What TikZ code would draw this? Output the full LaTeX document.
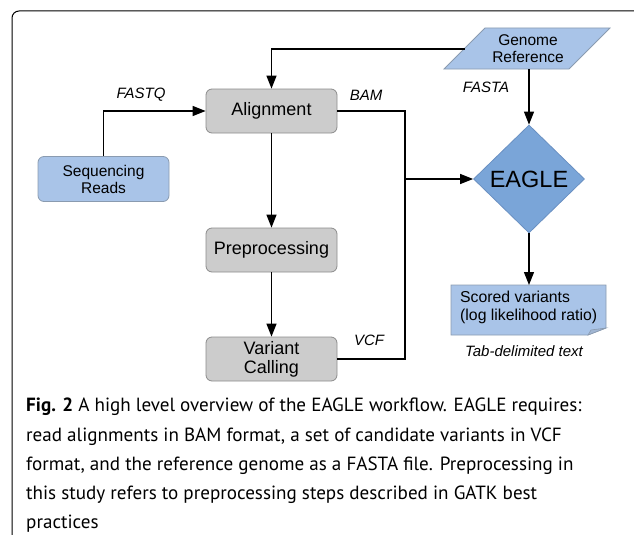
\documentclass[tikz,border=0pt]{standalone}
\usepackage{fontspec}
\setmainfont{Liberation Sans}
\newfontfamily\capfont{PT Sans}
\usetikzlibrary{arrows.meta,shapes.geometric,calc}
\definecolor{lblue}{HTML}{A9C4E8}
\definecolor{lblueedge}{HTML}{8A9BB0}
\definecolor{gfill}{HTML}{CCCCCC}
\definecolor{gedge}{HTML}{8C8C8C}
\definecolor{dblue}{HTML}{7AA5D8}
\definecolor{dblueedge}{HTML}{6A90C2}
\begin{document}
\begin{tikzpicture}[x=1pt,y=-1pt,
  gbox/.style={draw=gedge,fill=gfill,rounded corners=6pt,minimum width=131pt,minimum height=44pt,align=center,font=\fontsize{18}{20}\selectfont,inner sep=0pt,line width=0.8pt},
  bbox/.style={draw=lblueedge,fill=lblue,rounded corners=6pt,minimum width=131pt,minimum height=45pt,align=center,font=\fontsize{15.5}{18}\selectfont,inner sep=0pt,line width=0.8pt},
  conn/.style={line width=1.2pt},
  arr/.style={conn,-{Triangle[length=13pt,width=10pt]}},
  lbl/.style={font=\fontsize{15}{17}\selectfont\itshape,inner sep=0pt}
]
\useasboundingbox (0,0) rectangle (634,535);
\draw[line width=1pt,rounded corners=7pt] (12,535) -- (12,11) -- (634,11);

% nodes
\node[gbox] (align) at (271.5,111) {Alignment};
\node[gbox] (prep) at (271.5,250) {Preprocessing};
\node[gbox] (call) at (271.5,359) {Variant\\[-1pt]Calling};
\node[bbox] (reads) at (103.5,179) {Sequencing\\[-1pt]Reads};

% genome reference parallelogram
\path[draw=lblueedge,fill=lblue,line width=0.8pt] (485,28) coordinate (gtl) -- (610,28) -- (569,69) -- (444,69) coordinate (gbl) -- cycle;
\node[inner sep=0pt,align=center,font=\fontsize{15.5}{17}\selectfont] (genome) at (528,48.5) {Genome\\Reference};
\coordinate (gbot) at (529,69);
\coordinate (gleft) at (464.5,49);

% EAGLE diamond
\node[diamond,draw=dblueedge,fill=dblue,minimum width=111pt,minimum height=108pt,inner sep=0pt,font=\fontsize{23.5}{26}\selectfont,line width=0.8pt] (eagle) at (529,179) {EAGLE};

% scored variants with folded corner
\path[draw=lblueedge,fill=lblue,line width=0.8pt] (451,285) -- (606,285) -- (606,328) -- (588,335) -- (451,335) -- cycle;
\path[draw=lblueedge,fill=lblue!80!gray,line width=0.6pt] (606,328) -- (591,330) -- (588,335) -- cycle;
\node[inner sep=0pt,align=left,anchor=west,font=\fontsize{15.8}{18}\selectfont] (scored) at (460,307) {Scored variants\\(log likelihood ratio)};
\coordinate (scoredtop) at (529,285);

% labels
\node[lbl] (fastq) at (141,95) {FASTQ};
\node[lbl] (bam) at (366,95) {BAM};
\node[lbl] (fasta) at (486,87) {FASTA};
\node[lbl] (vcf) at (369,340) {VCF};
\node[lbl] (tab) at (524,351) {Tab-delimited text};

% connectors
\coordinate (bus) at (405,179);
\draw[arr] (reads.north) |- (align.west);
\draw[arr] (gleft) -| (align.north);
\draw[arr] (gbot) -- (eagle.north);
\draw[arr] (align.south) -- (prep.north);
\draw[arr] (prep.south) -- (call.north);
\draw[conn] (align.east) -| (bus) |- (call.east);
\draw[arr] (bus) -- (eagle.west);
\draw[arr] (eagle.south) -- (scoredtop);

% caption
\node[anchor=north west,inner sep=0pt,align=left,font=\capfont\fontsize{19.1}{29.2}\selectfont] (caption) at (26,398) {\textbf{Fig. 2} A high level overview of the EAGLE workflow. EAGLE requires:\\
read alignments in BAM format, a set of candidate variants in VCF\\
format, and the reference genome as a FASTA file. Preprocessing in\\
this study refers to preprocessing steps described in GATK best\\
practices};
\end{tikzpicture}
\end{document}
